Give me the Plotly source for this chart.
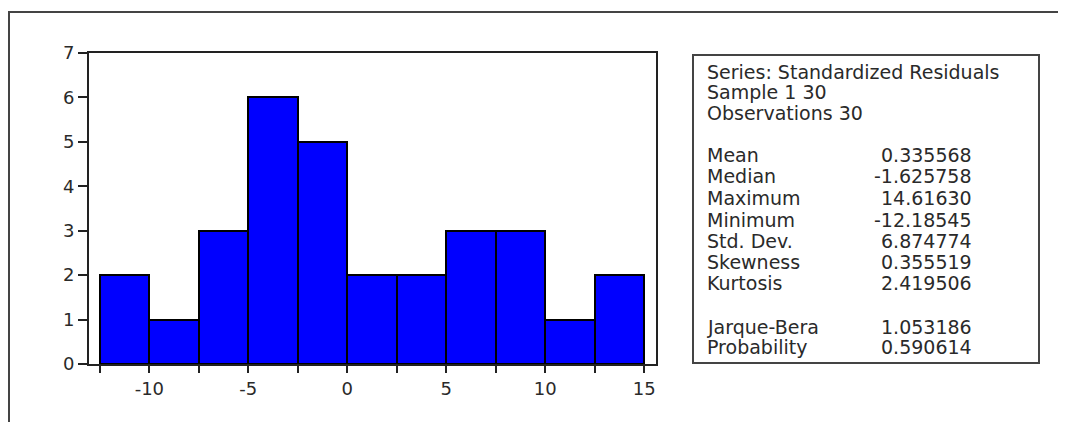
import plotly.graph_objects as go

# ---- data ----
bin_left_edges = [-12.5, -10.0, -7.5, -5.0, -2.5, 0.0, 2.5, 5.0, 7.5, 10.0, 12.5]
bin_width = 2.5
counts = [2, 1, 3, 6, 5, 2, 2, 3, 3, 1, 2]

x_tick_vals = [-12.5, -10, -7.5, -5, -2.5, 0, 2.5, 5, 7.5, 10, 12.5, 15]
x_tick_text = ["", "-10", "", "-5", "", "0", "", "5", "", "10", "", "15"]

header_lines = ["Series: Standardized Residuals", "Sample 1 30", "Observations 30"]
stat_names = ["Mean", "Median", "Maximum", "Minimum", "Std. Dev.", "Skewness", "Kurtosis"]
stat_values = ["0.335568", "-1.625758", "14.61630", "-12.18545", "6.874774", "0.355519", "2.419506"]
test_names = ["Jarque-Bera", "Probability"]
test_values = ["1.053186", "0.590614"]

# ---- layout geometry (page pixels; page body has an 8px margin) ----
OFF = 8
W, H = 1066 - 2 * OFF, 430 - 2 * OFF
L, R, T, B = 89 - OFF, 656 - OFF, 53 - OFF, 364 - OFF
pw, ph = R - L, B - T


def px(xp):
    return (xp - OFF - L) / pw


def py(yp):
    return (B - (yp - OFF)) / ph


centers = [e + bin_width / 2 for e in bin_left_edges]

fig = go.Figure()
fig.add_trace(go.Bar(
    x=centers, y=counts, width=[bin_width] * len(counts),
    marker=dict(color="#0000FF", line=dict(color="#000000", width=2)),
    hoverinfo="x+y",
))

FONT = "DejaVu Sans, Arial, sans-serif"
TXT = "#2a2a2a"
FS = 19

shapes = [
    # outer frame
    dict(type="rect", xref="paper", yref="paper",
         x0=px(9), x1=px(1090), y0=py(12), y1=py(460),
         line=dict(color="#444444", width=2), layer="below"),
    # stats box
    dict(type="rect", xref="paper", yref="paper",
         x0=px(693), x1=px(1039), y0=py(55), y1=py(363),
         line=dict(color="#444444", width=2)),
]

annotations = []
lx, vx = 705, 974


def add_text(x, y, t, anchor):
    annotations.append(dict(x=px(x), y=py(y), xref="paper", yref="paper", text=t,
                            showarrow=False, xanchor=anchor, yanchor="middle",
                            font=dict(family=FONT, size=FS, color=TXT)))


header_y = [72, 92, 113]
for t, yy in zip(header_lines, header_y):
    add_text(lx, yy, t, "left")
stat_y = [155, 176, 198, 220, 241, 262, 283]
for n, v, yy in zip(stat_names, stat_values, stat_y):
    add_text(lx, yy, n, "left")
    add_text(vx, yy, v, "right")
test_y = [327, 347]
for n, v, yy in zip(test_names, test_values, test_y):
    add_text(lx, yy, n, "left")
    add_text(vx, yy, v, "right")

fig.update_layout(
    width=W, height=H,
    margin=dict(l=L, r=W - R, t=T, b=H - B, pad=0),
    paper_bgcolor="white", plot_bgcolor="white",
    showlegend=False, bargap=0,
    shapes=shapes, annotations=annotations,
    xaxis=dict(range=[-13.05, 15.6], tickvals=x_tick_vals, ticktext=x_tick_text,
               ticks="outside", ticklen=7, tickwidth=2, tickcolor="#222222",
               showline=True, linecolor="#222222", linewidth=2, mirror=True,
               showgrid=False, zeroline=False,
               tickfont=dict(family=FONT, size=18, color=TXT)),
    yaxis=dict(range=[0, 7], tickvals=list(range(0, 8)), ticks="outside",
               ticklen=9, tickwidth=2, tickcolor="#222222",
               showline=True, linecolor="#222222", linewidth=2, mirror=True,
               showgrid=False, zeroline=False,
               tickfont=dict(family=FONT, size=18, color=TXT)),
)

fig.write_html("out.html")
